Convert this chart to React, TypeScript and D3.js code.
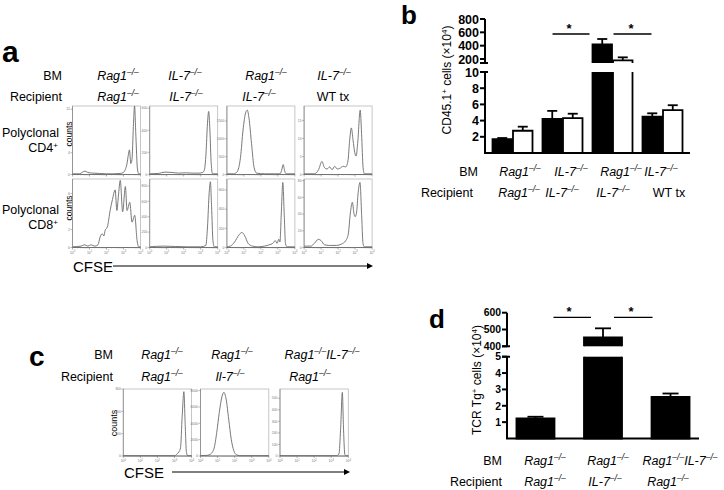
import React from 'react';
import * as d3 from 'd3';

const FONT = 'Arial, "Liberation Sans", Helvetica, sans-serif';
type Pt = [number, number];

// ---------- Panel a: CFSE histograms (log10 CFSE, relative count) ----------
const cd4RagRag: Pt[] = [[0,0.01],[0.4,0.01],[0.6,0.035],[0.73,0.05],[0.9,0.03],[1.2,0.02],[1.6,0.015],[2.0,0.01],[2.4,0.01],[2.8,0.015],[3.0,0.03],[3.1,0.07],[3.2,0.15],[3.28,0.28],[3.35,0.36],[3.43,0.16],[3.5,0.22],[3.58,0.7],[3.65,1.0],[3.73,0.55],[3.82,0.08],[3.9,0.01],[4,0.01]];
const cd4IL7IL7: Pt[] = [[0,0.01],[0.5,0.015],[0.9,0.035],[1.3,0.03],[1.7,0.02],[2.1,0.025],[2.5,0.02],[2.9,0.02],[3.12,0.03],[3.22,0.07],[3.31,0.3],[3.4,0.75],[3.47,0.92],[3.54,0.65],[3.62,0.15],[3.7,0.01],[4,0.01]];
const cd4RagIL7: Pt[] = [[0,0.01],[0.4,0.01],[0.6,0.04],[0.8,0.25],[0.95,0.65],[1.1,0.9],[1.2,0.94],[1.3,0.82],[1.45,0.45],[1.6,0.1],[1.75,0.02],[2.2,0.01],[2.8,0.01],[3.12,0.01],[3.22,0.06],[3.31,0.145],[3.4,0.05],[3.5,0.01],[4,0.01]];
const cd4IL7WT: Pt[] = [[0,0.01],[0.6,0.01],[0.85,0.07],[1.05,0.19],[1.2,0.1],[1.35,0.08],[1.5,0.11],[1.65,0.07],[1.8,0.12],[1.95,0.08],[2.1,0.09],[2.3,0.12],[2.45,0.11],[2.58,0.2],[2.68,0.5],[2.78,0.68],[2.88,0.5],[2.98,0.32],[3.06,0.27],[3.15,0.45],[3.3,0.94],[3.38,0.6],[3.47,0.1],[3.55,0.01],[4,0.01]];
const cd8RagRag: Pt[] = [[0,0.01],[0.5,0.02],[0.7,0.04],[0.9,0.02],[1.1,0.04],[1.3,0.02],[1.5,0.04],[1.62,0.15],[1.75,0.2],[1.85,0.17],[1.92,0.25],[2.05,0.3],[2.22,0.55],[2.35,0.7],[2.51,0.84],[2.61,0.54],[2.7,0.75],[2.81,0.98],[2.95,0.52],[3.11,0.89],[3.21,0.54],[3.37,0.66],[3.5,0.37],[3.66,0.47],[3.8,0.1],[3.9,0.01],[4,0.01]];
const cd8IL7IL7: Pt[] = [[0,0.01],[0.8,0.02],[1.5,0.015],[2.2,0.01],[3.0,0.01],[3.3,0.03],[3.4,0.3],[3.5,0.8],[3.57,0.96],[3.64,0.6],[3.72,0.1],[3.8,0.01],[4,0.01]];
const cd8RagIL7: Pt[] = [[0,0.01],[0.2,0.02],[0.45,0.08],[0.7,0.18],[0.88,0.22],[1.05,0.17],[1.25,0.06],[1.5,0.02],[1.8,0.01],[2.2,0.02],[2.5,0.04],[2.7,0.06],[2.85,0.1],[2.95,0.06],[3.05,0.12],[3.12,0.08],[3.2,0.5],[3.29,0.95],[3.37,0.5],[3.45,0.05],[3.55,0.01],[4,0.01]];
const cd8IL7WT: Pt[] = [[0,0.02],[0.4,0.02],[0.6,0.06],[0.84,0.12],[1.0,0.1],[1.2,0.04],[1.5,0.03],[1.9,0.03],[2.2,0.05],[2.45,0.1],[2.6,0.2],[2.72,0.5],[2.84,0.66],[2.93,0.5],[3.0,0.45],[3.08,0.5],[3.18,0.8],[3.29,0.95],[3.38,0.5],[3.47,0.05],[3.55,0.01],[4,0.01]];

// y-axis maxima and tick values of each histogram (counts)
const aRow1Max = [12.6, 620, 1920, 19];
const aRow1Ticks = [[0,4,8,12],[0,200,400,600],[0,500,1000,1500],[0,5,10,15]];
const aRow2Max = [7.6, 890, 715, 82];
const aRow2Ticks = [[0,2,4,6],[0,200,400,600,800],[0,200,400,600],[0,20,40,60,80]];

const aBM = ['Rag1−/−', 'IL-7−/−', 'Rag1−/−', 'IL-7−/−'];
const aRecipient = ['Rag1−/−', 'IL-7−/−', 'IL-7−/−', 'WT tx'];

// ---------- Panel c ----------
const cRagRag: Pt[] = [[0,0.005],[3.0,0.005],[3.15,0.03],[3.25,0.06],[3.35,0.12],[3.45,0.6],[3.55,0.96],[3.62,0.5],[3.7,0.05],[3.78,0.005],[4,0.005]];
const cRagIl7: Pt[] = [[0,0.005],[0.4,0.01],[0.6,0.03],[0.8,0.12],[0.95,0.35],[1.1,0.65],[1.25,0.88],[1.37,0.95],[1.5,0.85],[1.65,0.55],[1.8,0.25],[1.95,0.08],[2.1,0.02],[2.3,0.005],[4,0.005]];
const cDkoRag: Pt[] = [[0,0.005],[3.3,0.005],[3.45,0.03],[3.55,0.4],[3.65,0.95],[3.72,0.4],[3.8,0.02],[3.88,0.005],[4,0.005]];
const cMax = [300, 8200, 580];
const cTicks = [[0,100,200,300],[0,2000,4000,6000,8000],[0,100,200,300,400,500]];
const cBM = ['Rag1−/−', 'Rag1−/−', 'Rag1−/−IL-7−/−'];
const cRecipient = ['Rag1−/−', 'Il-7−/−', 'Rag1−/−'];

// ---------- Panel b ----------
const bGroups = ['g1', 'g2', 'g3', 'g4'];
const bBlack = [1.7, 4.2, 420, 4.5];
const bBlackErr = [1.85, 5.2, 500, 4.9];
const bWhite = [2.75, 4.3, 180, 5.3];
const bWhiteErr = [3.25, 4.85, 225, 5.9];
const bLowerTicks = [2, 4, 6, 8, 10];
const bUpperTicks = [200, 400, 600, 800];
const bBM = ['Rag1−/−', 'IL-7−/−', 'Rag1−/−', 'IL-7−/−'];
const bRecipient = ['Rag1−/−', 'IL-7−/−', 'IL-7−/−', 'WT tx'];

// ---------- Panel d ----------
const dGroups = ['g1', 'g2', 'g3'];
const dBars = [1.23, 453, 2.55];
const dErr = [1.33, 507, 2.75];
const dLowerTicks = [1, 2, 3, 4, 5];
const dUpperTicks = [400, 500, 600];
const dBM = ['Rag1−/−', 'Rag1−/−', 'Rag1−/−IL-7−/−'];
const dRecipient = ['Rag1−/−', 'IL-7−/−', 'Rag1−/−'];

const SUP = '−/−';

function Geno({ x, y, label, size = 12.5, anchor = 'middle' }: any) {
  const parts = label.split(SUP);
  if (parts.length === 1) {
    return <text x={x} y={y} fontSize={size} textAnchor={anchor}>{label}</text>;
  }
  const kids: any[] = [];
  const sh = size * 0.38;
  parts.forEach((p: string, i: number) => {
    if (i === parts.length - 1) {
      if (p) kids.push(<tspan key={'e' + i} dy={sh} fontStyle="italic">{p}</tspan>);
      return;
    }
    kids.push(<tspan key={'b' + i} dy={i > 0 ? sh : 0} fontStyle="italic">{p}</tspan>);
    kids.push(<tspan key={'s' + i} dy={-sh} fontSize={size * 0.68} fontStyle="italic">–/–</tspan>);
  });
  return <text x={x} y={y} fontSize={size} textAnchor={anchor}>{kids}</text>;
}

function Histo({ x0, y0, w, h, data, max, ticks, showX }: any) {
  const xs = d3.scaleLinear().domain([0, 4]).range([x0, x0 + w]);
  const ys = d3.scaleLinear().domain([0, 1]).range([y0 + h, y0]);
  const yt = d3.scaleLinear().domain([0, max]).range([y0 + h, y0]);
  const line = d3.line<Pt>().x(d => xs(d[0])).y(d => ys(d[1])).curve(d3.curveMonotoneX);
  const majors = d3.range(0, 5);
  const minors: number[] = [];
  for (let e = 0; e < 4; e++) for (let m = 2; m < 10; m++) minors.push(e + Math.log10(m));
  return (
    <g>
      <rect x={x0} y={y0} width={w} height={h} fill="none" stroke="#b8b8b8" strokeWidth={0.8} />
      <line x1={x0} x2={x0} y1={y0} y2={y0 + h} stroke="#8a8a8a" strokeWidth={0.8} />
      <line x1={x0} x2={x0 + w} y1={y0 + h} y2={y0 + h} stroke="#666" strokeWidth={0.9} />
      {ticks.map((t: number, i: number) => (
        <g key={'yt' + i}>
          <line x1={x0 - 2} x2={x0} y1={yt(t)} y2={yt(t)} stroke="#888" strokeWidth={0.6} />
          <text x={x0 - 2.5} y={yt(t) + 1.2} fontSize={3.4} fill="#777" textAnchor="end">{t}</text>
        </g>
      ))}
      {majors.map(m => (
        <line key={'mx' + m} x1={xs(m)} x2={xs(m)} y1={y0 + h} y2={y0 + h + 2} stroke="#777" strokeWidth={0.6} />
      ))}
      {minors.map((m, i) => (
        <line key={'mn' + i} x1={xs(m)} x2={xs(m)} y1={y0 + h} y2={y0 + h + 1} stroke="#999" strokeWidth={0.4} />
      ))}
      {showX && majors.map(m => (
        <text key={'xl' + m} x={xs(m)} y={y0 + h + 6} fontSize={3.4} fill="#777" textAnchor="middle">
          10<tspan dy={-1.2} fontSize={2.6}>{m}</tspan>
        </text>
      ))}
      <path d={line(data) || ''} fill="none" stroke="#6a6a6a" strokeWidth={0.9} />
    </g>
  );
}

function Arrow({ x1, x2, y }: any) {
  return (
    <g>
      <line x1={x1} x2={x2 - 5} y1={y} y2={y} stroke="#000" strokeWidth={1.2} />
      <path d={`M${x2 - 6},${y - 3} L${x2},${y} L${x2 - 6},${y + 3} Z`} fill="#000" />
    </g>
  );
}

function segments(v: number, lowMax: number, upMin: number) {
  const segs: { lo: number; hi: number; part: 'low' | 'up'; broken: boolean }[] = [];
  segs.push({ lo: 0, hi: Math.min(v, lowMax), part: 'low', broken: v > lowMax });
  if (v > lowMax) segs.push({ lo: upMin, hi: v, part: 'up', broken: true });
  return segs;
}

function BrokenBars({ xs, groups, values, errs, low, up, lowMax, upMin, fill, x0off, bw, cap }: any) {
  const yv = (v: number) => (v <= lowMax ? low(v) : up(v));
  return (
    <g>
      {groups.map((g: string, i: number) => {
        const x = xs(g) + x0off;
        const v = values[i];
        const cx = x + bw / 2;
        return (
          <g key={g}>
            {segments(v, lowMax, upMin).map((s, j) => {
              const sc = s.part === 'low' ? low : up;
              const yTop = sc(s.hi);
              const yBot = sc(s.lo);
              let outline = '';
              if (s.part === 'low') {
                outline = s.broken
                  ? `M${x},${yTop} L${x},${yBot} L${x + bw},${yBot} L${x + bw},${yTop}`
                  : `M${x},${yBot} L${x},${yTop} L${x + bw},${yTop} L${x + bw},${yBot} Z`;
              } else {
                outline = `M${x},${yBot} L${x},${yTop} L${x + bw},${yTop} L${x + bw},${yBot}`;
              }
              return (
                <g key={j}>
                  <rect x={x} y={yTop} width={bw} height={Math.max(0, yBot - yTop)} fill={fill} />
                  <path d={outline} fill="none" stroke="#000" strokeWidth={1.8} />
                </g>
              );
            })}
            <line x1={cx} x2={cx} y1={yv(v)} y2={yv(errs[i])} stroke="#000" strokeWidth={1.8} />
            <line x1={cx - cap / 2} x2={cx + cap / 2} y1={yv(errs[i])} y2={yv(errs[i])} stroke="#000" strokeWidth={1.8} />
          </g>
        );
      })}
    </g>
  );
}

function BrokenAxis({ ax, low, up, lowTicks, upTicks, lowMax, upMin, size = 12.5 }: any) {
  return (
    <g>
      <line x1={ax} x2={ax} y1={low(0)} y2={low(lowMax)} stroke="#000" strokeWidth={2} />
      <line x1={ax} x2={ax} y1={up(upMin)} y2={up(upTicks[upTicks.length - 1])} stroke="#000" strokeWidth={2} />
      {lowTicks.map((t: number) => (
        <g key={'l' + t}>
          <line x1={ax - 5} x2={ax} y1={low(t)} y2={low(t)} stroke="#000" strokeWidth={2} />
          <text x={ax - 6} y={low(t) + size * 0.36} fontSize={size} fontWeight="bold" textAnchor="end">{t}</text>
        </g>
      ))}
      {upTicks.map((t: number) => (
        <g key={'u' + t}>
          <line x1={ax - 5} x2={ax} y1={up(t)} y2={up(t)} stroke="#000" strokeWidth={2} />
          <text x={ax - 6} y={up(t) + size * 0.36} fontSize={size} fontWeight="bold" textAnchor="end">{t}</text>
        </g>
      ))}
      <line x1={ax - 5} x2={ax + 3} y1={up(upMin)} y2={up(upMin)} stroke="#000" strokeWidth={2} />
      <line x1={ax - 5} x2={ax + 3} y1={low(lowMax)} y2={low(lowMax)} stroke="#000" strokeWidth={2} />
    </g>
  );
}

export default function App() {
  // panel a layout
  const aBoxX = [72.5, 149.7, 226.9, 304.1];
  const aBoxW = 68;
  const aRowY = [106, 179];
  const aBoxH = 68.5;
  const aRows = [[cd4RagRag, cd4IL7IL7, cd4RagIL7, cd4IL7WT], [cd8RagRag, cd8IL7IL7, cd8RagIL7, cd8IL7WT]];
  const aMax = [aRow1Max, aRow2Max];
  const aTicks = [aRow1Ticks, aRow2Ticks];
  const aBMx = [118, 185, 266, 334];
  const aRecx = [118, 186, 259, 333];

  // panel c layout
  const cBoxX = [123.3, 200.5, 280];
  const cBoxW = 68.3;
  const cBoxY = 389;
  const cBoxH = 67;
  const cData = [cRagRag, cRagIl7, cDkoRag];
  const cBMx = [162, 232, 322];
  const cRecx = [162, 230, 310];

  // panel b scales
  const xb = d3.scaleBand().domain(bGroups).range([485, 690]).paddingInner(0.2).paddingOuter(0.15);
  const bbw = xb.bandwidth();
  const bSub = (bbw - 1) / 2;
  const bLow = d3.scaleLinear().domain([0, 10]).range([153, 72]);
  const bUp = d3.scaleLinear().domain([140, 800]).range([63, 19]);
  const bBMx = [520, 571, 621, 661];
  const bRecx = [519, 562, 613, 669];

  // panel d scales
  const xd = d3.scaleBand().domain(dGroups).range([507, 699]).paddingInner(0.437).paddingOuter(0.14);
  const dbw = xd.bandwidth();
  const dLow = d3.scaleLinear().domain([0, 5]).range([438.5, 356.7]);
  const dUp = d3.scaleLinear().domain([400, 600]).range([346.3, 312.7]);
  const dBMx = [545, 608, 680];
  const dRecx = [545, 605, 668];

  return (
    <svg width={724} height={490} style={{ position: 'absolute', left: 0, top: 0, background: '#fff' }} fontFamily={FONT}>
      <rect x={0} y={0} width={724} height={490} fill="#fff" />
      {/* ---------------- Panel a ---------------- */}
      <text x={2} y={62} fontSize={30} fontWeight="bold">a</text>
      <text x={62} y={80} fontSize={12.5} textAnchor="end">BM</text>
      <text x={62} y={101} fontSize={12.5} textAnchor="end">Recipient</text>
      {aBM.map((l, i) => <Geno key={'abm' + i} x={aBMx[i]} y={80} label={l} />)}
      {aRecipient.map((l, i) => <Geno key={'arc' + i} x={aRecx[i]} y={101} label={l} />)}
      <text x={59} y={137} fontSize={12.5} textAnchor="end">Polyclonal</text>
      <text x={58} y={152} fontSize={12.5} textAnchor="end">CD4<tspan dy={-4} fontSize={8}>+</tspan></text>
      <text x={59} y={214} fontSize={12.5} textAnchor="end">Polyclonal</text>
      <text x={58} y={229} fontSize={12.5} textAnchor="end">CD8<tspan dy={-4} fontSize={8}>+</tspan></text>
      <text transform="translate(71.5,134) rotate(-90)" fontSize={8.5} textAnchor="middle">counts</text>
      <text transform="translate(71.5,208) rotate(-90)" fontSize={8.5} textAnchor="middle">counts</text>
      {aRows.map((row, r) => row.map((data, i) => (
        <Histo key={'ah' + r + i} x0={aBoxX[i]} y0={aRowY[r]} w={aBoxW} h={aBoxH} data={data}
          max={aMax[r][i]} ticks={aTicks[r][i]} showX={r === 1} />
      )))}
      <text x={73} y={271.5} fontSize={15}>CFSE</text>
      <Arrow x1={113} x2={373} y={266} />

      {/* ---------------- Panel c ---------------- */}
      <text x={29} y={366} fontSize={28} fontWeight="bold">c</text>
      <text x={113} y={359} fontSize={12.5} textAnchor="end">BM</text>
      <text x={113} y={381} fontSize={12.5} textAnchor="end">Recipient</text>
      {cBM.map((l, i) => <Geno key={'cbm' + i} x={cBMx[i]} y={359} label={l} />)}
      {cRecipient.map((l, i) => <Geno key={'crc' + i} x={cRecx[i]} y={381} label={l} />)}
      <text transform="translate(116.5,423) rotate(-90)" fontSize={9} textAnchor="middle">counts</text>
      {cData.map((data, i) => (
        <Histo key={'ch' + i} x0={cBoxX[i]} y0={cBoxY} w={cBoxW} h={cBoxH} data={data}
          max={cMax[i]} ticks={cTicks[i]} showX={true} />
      ))}
      <text x={124} y={477.5} fontSize={15}>CFSE</text>
      <Arrow x1={172} x2={350} y={472} />

      {/* ---------------- Panel b ---------------- */}
      <text x={401} y={24} fontSize={26} fontWeight="bold">b</text>
      <text transform="translate(451,80) rotate(-90)" fontSize={12} textAnchor="middle">
        CD45.1<tspan dy={-4} fontSize={8}>+</tspan><tspan dy={4}> cells (×10</tspan><tspan dy={-4} fontSize={8}>4</tspan><tspan dy={4}>)</tspan>
      </text>
      <BrokenBars xs={xb} groups={bGroups} values={bBlack} errs={bBlackErr} low={bLow} up={bUp}
        lowMax={10} upMin={140} fill="#000" x0off={0} bw={bSub} cap={10} />
      <BrokenBars xs={xb} groups={bGroups} values={bWhite} errs={bWhiteErr} low={bLow} up={bUp}
        lowMax={10} upMin={140} fill="#fff" x0off={bSub + 1} bw={bSub} cap={10} />
      <BrokenAxis ax={485} low={bLow} up={bUp} lowTicks={bLowerTicks} upTicks={bUpperTicks} lowMax={10} upMin={140} size={12.5} />
      <line x1={484} x2={690} y1={153} y2={153} stroke="#000" strokeWidth={2} />
      <line x1={(xb('g2') as number) + 10} x2={(xb('g3') as number) - 3} y1={34} y2={34} stroke="#000" strokeWidth={1.3} />
      <line x1={(xb('g3') as number) + 21} x2={(xb('g4') as number) + 9} y1={34} y2={34} stroke="#000" strokeWidth={1.3} />
      <text x={569} y={33} fontSize={13} fontWeight="bold" textAnchor="middle">*</text>
      <text x={631} y={33} fontSize={13} fontWeight="bold" textAnchor="middle">*</text>
      <text x={478} y={176} fontSize={12.5} textAnchor="end">BM</text>
      <text x={473} y={197} fontSize={12.5} textAnchor="end">Recipient</text>
      {bBM.map((l, i) => <Geno key={'bbm' + i} x={bBMx[i]} y={176} label={l} />)}
      {bRecipient.map((l, i) => <Geno key={'brc' + i} x={bRecx[i]} y={197} label={l} />)}

      {/* ---------------- Panel d ---------------- */}
      <text x={429} y={328} fontSize={26} fontWeight="bold">d</text>
      <text transform="translate(481,380) rotate(-90)" fontSize={12} textAnchor="middle">
        TCR Tg<tspan dy={-4} fontSize={8}>+</tspan><tspan dy={4}> cells (×10</tspan><tspan dy={-4} fontSize={8}>4</tspan><tspan dy={4}>)</tspan>
      </text>
      <BrokenBars xs={xd} groups={dGroups} values={dBars} errs={dErr} low={dLow} up={dUp}
        lowMax={5} upMin={400} fill="#000" x0off={0} bw={dbw} cap={16} />
      <BrokenAxis ax={507} low={dLow} up={dUp} lowTicks={dLowerTicks} upTicks={dUpperTicks} lowMax={5} upMin={400} size={10.4} />
      <line x1={506} x2={699} y1={438.5} y2={438.5} stroke="#000" strokeWidth={2} />
      <line x1={(xd('g1') as number) + dbw - 1} x2={(xd('g2') as number) + 7} y1={317.3} y2={317.3} stroke="#000" strokeWidth={1.3} />
      <line x1={(xd('g2') as number) + dbw - 8} x2={(xd('g3') as number) + 1} y1={317.3} y2={317.3} stroke="#000" strokeWidth={1.3} />
      <text x={569} y={316} fontSize={13} fontWeight="bold" textAnchor="middle">*</text>
      <text x={631} y={316} fontSize={13} fontWeight="bold" textAnchor="middle">*</text>
      <text x={502} y={465} fontSize={12.5} textAnchor="end">BM</text>
      <text x={502} y={486} fontSize={12.5} textAnchor="end">Recipient</text>
      {dBM.map((l, i) => <Geno key={'dbm' + i} x={dBMx[i]} y={465} label={l} />)}
      {dRecipient.map((l, i) => <Geno key={'drc' + i} x={dRecx[i]} y={486} label={l} />)}
    </svg>
  );
}
